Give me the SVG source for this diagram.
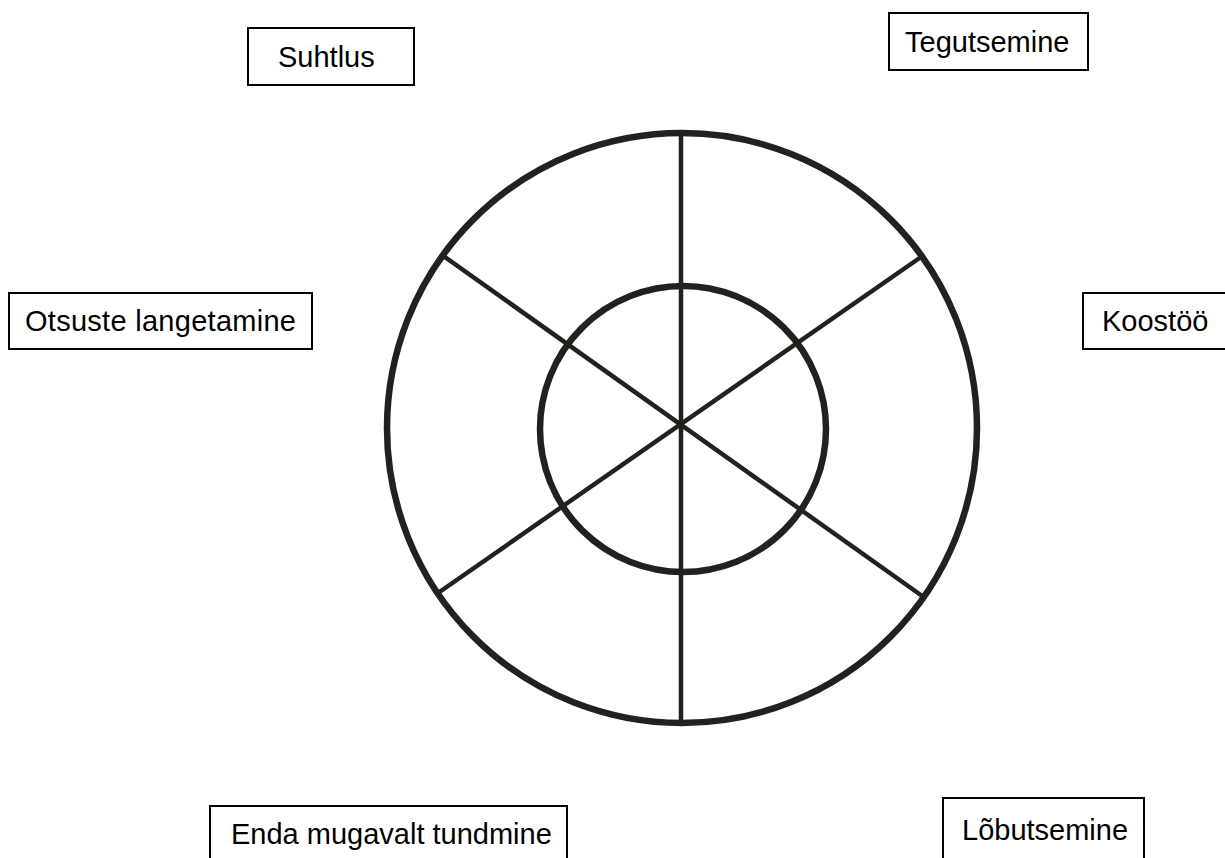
<svg xmlns="http://www.w3.org/2000/svg" width="1225" height="858" viewBox="0 0 1225 858">
<style>
.box{fill:#fff;stroke:#000;stroke-width:2}
.lbl{font-family:"Liberation Sans",Arial,Helvetica,sans-serif;font-size:29px;fill:#000}
.ring{fill:none;stroke:#23211d;stroke-width:6.5}
.spoke{stroke:#23211d;stroke-width:4.5;fill:none}
</style>
<rect width="1225" height="858" fill="#fff"/>
<g id="wheel">
<circle class="ring" cx="682" cy="428" r="295"/>
<circle class="ring" cx="683" cy="429" r="143"/>
</g>
<g id="connectors">
<line class="spoke" x1="681" y1="131" x2="681" y2="721"/>
<line class="spoke" x1="442" y1="255" x2="925" y2="598"/>
<line class="spoke" x1="438" y1="593" x2="921" y2="257"/>
</g>
<g id="suhtlus">
<rect class="box" x="248" y="28" width="166" height="57"/>
<text class="lbl" x="278" y="67">Suhtlus</text>
</g>
<g id="tegutsemine">
<rect class="box" x="889" y="13" width="199" height="57"/>
<text class="lbl" x="905" y="52">Tegutsemine</text>
</g>
<g id="otsuste">
<rect class="box" x="9" y="293" width="303" height="56"/>
<text class="lbl" x="25" y="331" textLength="271" lengthAdjust="spacing">Otsuste langetamine</text>
</g>
<g id="koostoo">
<rect class="box" x="1083" y="293" width="150" height="56"/>
<text class="lbl" x="1102" y="331">Koostöö</text>
</g>
<g id="enda">
<rect class="box" x="210" y="806" width="357" height="60"/>
<text class="lbl" x="231" y="844">Enda mugavalt tundmine</text>
</g>
<g id="lobutsemine">
<rect class="box" x="943" y="798" width="201" height="68"/>
<text class="lbl" x="962" y="840">Lõbutsemine</text>
</g>
</svg>
